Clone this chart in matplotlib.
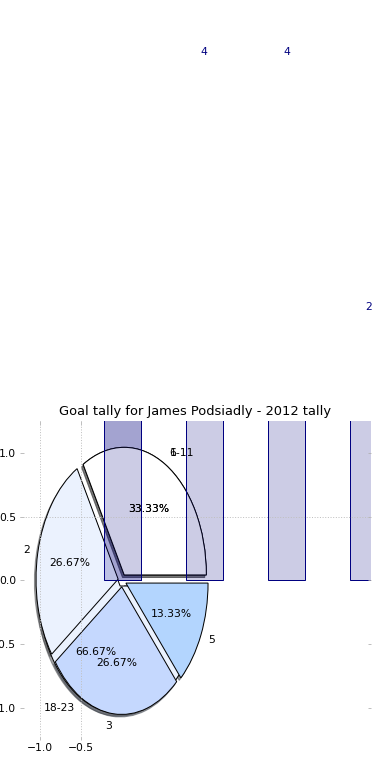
import numpy as np
import matplotlib
matplotlib.use("Agg")
import matplotlib.pyplot as plt

# 2012 tally: matches per goal count
goal_labels = ["1", "2", "3", "5"]
match_counts = [5, 4, 4, 2]

# round ranges (earlier layer left on the same axes)
round_labels = ["6-11", "18-23"]
round_counts = [1, 2]

pie_colors = ["#ffffff", "#ebf2fe", "#c5d8fe", "#b3d5fe"]
grid_x = [-1.0, -0.5]
grid_y = [0.5]
xtick_vals = [-1.0, -0.5]
ytick_vals = [-1.0, -0.5, 0.0, 0.5, 1.0]

plt.rcParams["font.size"] = 10.8

fig = plt.figure(figsize=(390 / 72, 780 / 72), dpi=72)
ax = fig.add_axes([0.05, 0.0513, 0.9013, 0.409])

x = np.arange(len(match_counts))
bar_kw = dict(width=0.45, align="center", facecolor=(0, 0, 0.5, 0.2),
              edgecolor="navy", linewidth=1)

# first layer: leading bar only
ax.bar(x[:1], match_counts[:1], **bar_kw)

wp = {"edgecolor": "black", "linewidth": 1}
ax.pie(round_counts, labels=round_labels, autopct="%.2f%%",
       explode=[0.05] * len(round_counts), shadow=True, startangle=0,
       colors=pie_colors[:len(round_counts)], wedgeprops=wp)
ax.pie(match_counts, labels=goal_labels, autopct="%.2f%%",
       explode=[0.05] * len(match_counts), shadow=True, startangle=0,
       colors=pie_colors, wedgeprops=wp)

ax.bar(x, match_counts, **bar_kw)
for xi, h in zip(x, match_counts):
    ax.text(xi, h + 0.1, str(h), ha="center", va="bottom", color="navy")

ax.set_aspect("auto")
ax.set_xlim(-1.25, 3.03)
ax.set_ylim(-1.25, 1.25)
ax.set_frame_on(False)
ax.set_xticks(xtick_vals)
ax.set_yticks(ytick_vals)
ax.tick_params(direction="in", length=3.5, color="#b0b0b0", right=True, top=True,
               labelsize=10.8)
for gx in grid_x:
    ax.axvline(gx, color="#c0c0c0", linestyle=":", linewidth=1)
for gy in grid_y:
    ax.axhline(gy, color="#c0c0c0", linestyle=":", linewidth=1)

ax.set_title("Goal tally for James Podsiadly - 2012 tally", fontsize=13)

fig.savefig("out.png", dpi=72)
